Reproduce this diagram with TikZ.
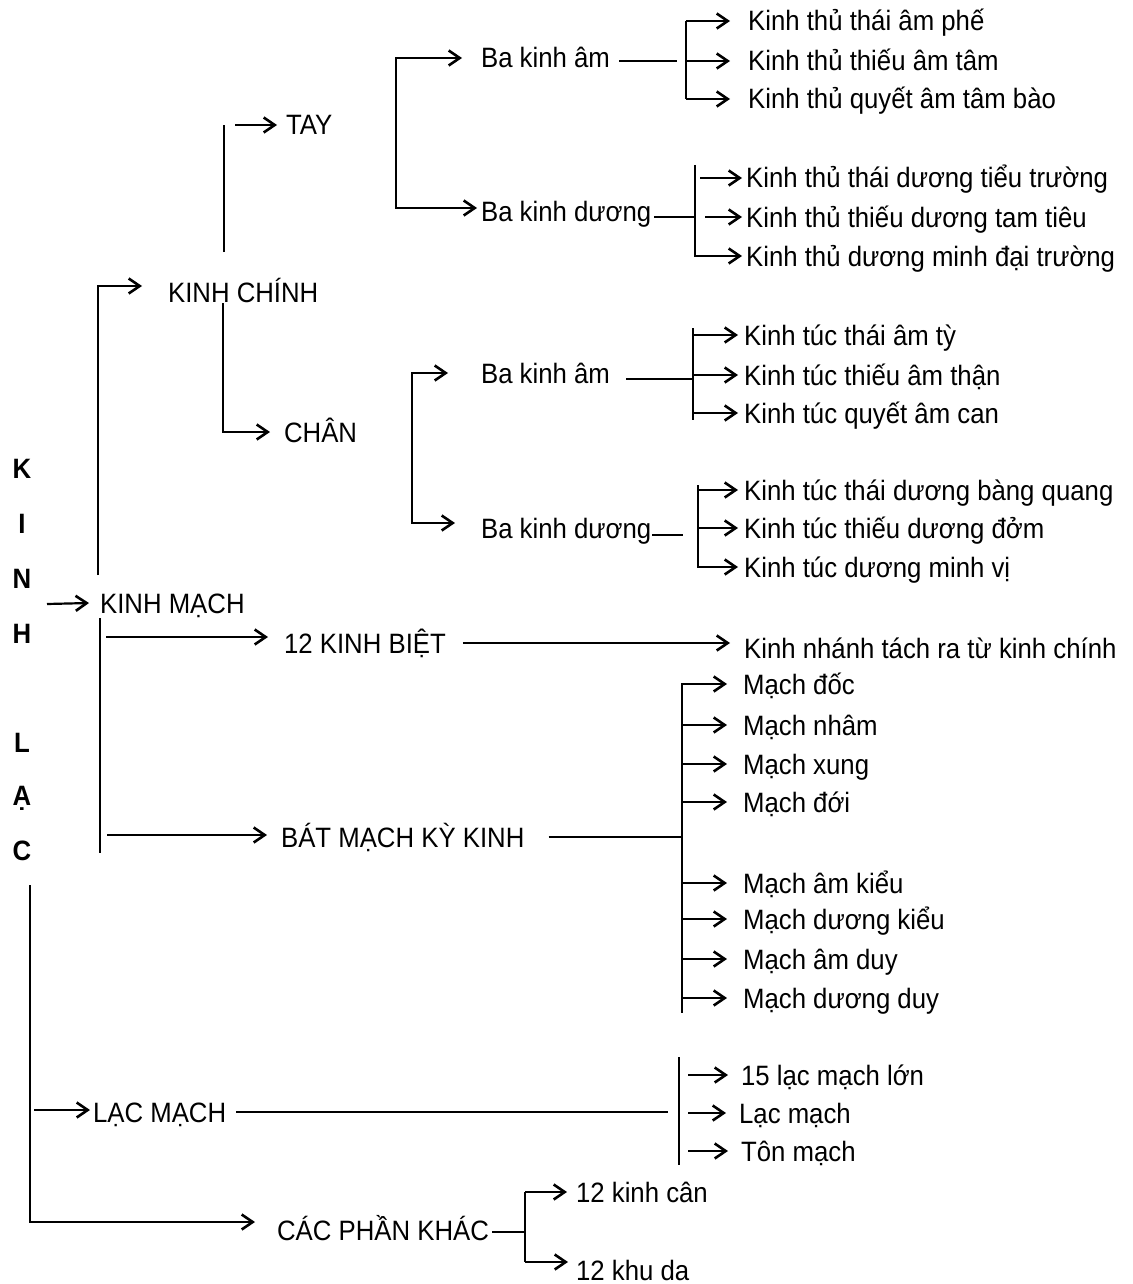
\documentclass[tikz,border=0pt]{standalone}
\usepackage{fontspec}
\setmainfont{Liberation Sans}[FakeStretch=0.92]
\usetikzlibrary{arrows.meta,calc}
\begin{document}
\begin{tikzpicture}[x=1pt,y=-1pt,line width=2.2pt,
  lbl/.style={anchor=west,inner sep=0pt,text height=20pt,text depth=0pt,font=\fontsize{28}{32}\selectfont},
  arr/.style={-{Straight Barb[length=11pt,width=15pt,line width=2.6pt]}},
  letter/.style={anchor=base,inner sep=0pt,font=\fontsize{28}{32}\selectfont\bfseries}]
\fill[white] (0,0) rectangle (1132,1284);
\useasboundingbox (0,0) rectangle (1132,1284);

% vertical title letters
\node[letter] (lk) at (22,478) {K};
\node[letter] (li) at (22,533) {I};
\node[letter] (ln) at (22,588) {N};
\node[letter] (lh) at (22,643) {H};
\node[letter] (ll) at (22,752) {L};
\node[letter] (la) at (22,805) {Ạ};
\node[letter] (lc) at (22,860) {C};

% level 1
\node[lbl] (kinhmach) at (99,603) {KINH MẠCH};
\node[lbl] (kinhchinh) at (167,292) {KINH CHÍNH};
\node[lbl] (tay) at (285,125) {TAY};
\node[lbl] (chan) at (283,432) {CHÂN};
\node[lbl] (biet) at (283,643) {12 KINH BIỆT};
\node[lbl] (bat) at (280,837) {BÁT MẠCH KỲ KINH};
\node[lbl] (lacmach) at (92,1112) {LẠC MẠCH};
\node[lbl] (cac) at (276,1230) {CÁC PHẦN KHÁC};

\coordinate (inKM) at (47,604);
\draw[arr] (inKM) -- ([xshift=-10pt]kinhmach.west);
\coordinate (vKC) at (98,575);
\draw[arr] (vKC) |- ([xshift=-25pt,yshift=6pt]kinhchinh.west);
\coordinate (vTt) at (224,125);
\coordinate (vTb) at (224,252);
\coordinate (aT) at (235,125);
\draw (vTb) -- (vTt);
\draw[arr] (aT) -- ([xshift=-8pt]tay.west);
\coordinate (vC) at (223,303);
\draw[arr] (vC) |- ([xshift=-13pt]chan.west);
\coordinate (vKMt) at (100,618);
\coordinate (vKMb) at (100,853);
\draw (vKMt) -- (vKMb);
\coordinate (aB) at (106,637);
\draw[arr] (aB) -- ([xshift=-15pt,yshift=6pt]biet.west);
\coordinate (aBat) at (107,835);
\draw[arr] (aBat) -- ([xshift=-13pt,yshift=2pt]bat.west);
\coordinate (vL) at (30,885);
\draw[arr] (vL) |- ([xshift=-21pt,yshift=8pt]cac.west);
\coordinate (aL) at (34,1110);
\draw[arr] (aL) -- ([xshift=-2pt,yshift=2pt]lacmach.west);

% TAY branch
\node[lbl] (ba1) at (480,58) {Ba kinh âm};
\node[lbl] (ba2) at (480,212) {Ba kinh dương};
\coordinate (bA) at (396,133);
\draw[arr] (bA) |- ([xshift=-18pt]ba1.west);
\draw[arr] (bA) |- ([xshift=-3pt,yshift=4pt]ba2.west);

\node[lbl] (t1) at (747,21) {Kinh thủ thái âm phế};
\node[lbl] (t2) at (747,61) {Kinh thủ thiếu âm tâm};
\node[lbl] (t3) at (747,99) {Kinh thủ quyết âm tâm bào};
\coordinate (b1) at (686,61);
\draw ($(ba1.east |- b1)+(8pt,0)$) -- ($(b1)+(-9pt,0)$);
\draw (t1.west -| b1) -- (t3.west -| b1);
\foreach \t in {t1,t2,t3} \draw[arr] (\t.west -| b1) -- ([xshift=-17pt]\t.west);

\node[lbl] (t4) at (745,178) {Kinh thủ thái dương tiểu trường};
\node[lbl] (t5) at (745,217) {Kinh thủ thiếu dương tam tiêu};
\node[lbl] (t6) at (745,256) {Kinh thủ dương minh đại trường};
\coordinate (b2t) at (695,165);
\coordinate (b2b) at (695,257);
\coordinate (b2) at (695,217);
\draw (b2t) -- (b2b);
\draw ($(ba2.east |- b2)+(2pt,0)$) -- (b2);
\draw[arr] ($(t4.west -| b2)+(5pt,0)$) -- ([xshift=-3pt]t4.west);
\draw[arr] ($(t5.west -| b2)+(10pt,0)$) -- ([xshift=-3pt]t5.west);
\draw[arr] (t6.west -| b2) -- ([xshift=-3pt]t6.west);

% CHAN branch
\node[lbl] (bc1) at (480,373) {Ba kinh âm};
\node[lbl] (bc2) at (480,528) {Ba kinh dương};
\coordinate (bC) at (412,448);
\draw[arr] (bC) |- ([xshift=-32pt]bc1.west);
\draw[arr] (bC) |- ([xshift=-25pt,yshift=5pt]bc2.west);

\node[lbl] (s1) at (743,335) {Kinh túc thái âm tỳ};
\node[lbl] (s2) at (743,375) {Kinh túc thiếu âm thận};
\node[lbl] (s3) at (743,413) {Kinh túc quyết âm can};
\coordinate (b3) at (693,379);
\coordinate (b3t) at (693,328);
\coordinate (b3b) at (693,420);
\draw (b3t) -- (b3b);
\draw ($(bc1.east |- b3)+(15pt,0)$) -- (b3);
\foreach \t in {s1,s2,s3} \draw[arr] (\t.west -| b3) -- ([xshift=-5pt]\t.west);

\node[lbl] (s4) at (743,490) {Kinh túc thái dương bàng quang};
\node[lbl] (s5) at (743,528) {Kinh túc thiếu dương đởm};
\node[lbl] (s6) at (743,567) {Kinh túc dương minh vị};
\coordinate (b4) at (698,535);
\coordinate (b4t) at (698,485);
\coordinate (b4b) at (698,568);
\draw (b4t) -- (b4b);
\draw ($(bc2.east |- b4)+(0pt,0)$) -- ($(b4)+(-15pt,0)$);
\foreach \t in {s4,s5,s6} \draw[arr] (\t.west -| b4) -- ([xshift=-5pt]\t.west);

% 12 KINH BIET
\node[lbl] (nh) at (743,648) {Kinh nhánh tách ra từ kinh chính};
\draw[arr] ($(biet.east)+(16pt,0)$) -- ([xshift=-13pt,yshift=5pt]nh.west);

% BAT MACH
\node[lbl] (m1) at (742,684) {Mạch đốc};
\node[lbl] (m2) at (742,725) {Mạch nhâm};
\node[lbl] (m3) at (742,764) {Mạch xung};
\node[lbl] (m4) at (742,802) {Mạch đới};
\node[lbl] (m5) at (742,883) {Mạch âm kiểu};
\node[lbl] (m6) at (742,919) {Mạch dương kiểu};
\node[lbl] (m7) at (742,959) {Mạch âm duy};
\node[lbl] (m8) at (742,998) {Mạch dương duy};
\coordinate (b5) at (682,837);
\coordinate (b5t) at (682,683);
\coordinate (b5b) at (682,1013);
\draw (b5t) -- (b5b);
\draw ($(bat.east)+(23pt,0)$) -- (b5);
\foreach \t in {m1,m2,m3,m4,m5,m6,m7,m8} \draw[arr] (\t.west -| b5) -- ([xshift=-15pt]\t.west);

% LAC MACH
\node[lbl] (l1) at (740,1075) {15 lạc mạch lớn};
\node[lbl] (l2) at (738,1113) {Lạc mạch};
\node[lbl] (l3) at (740,1151) {Tôn mạch};
\coordinate (b6) at (679,1112);
\coordinate (b6t) at (679,1057);
\coordinate (b6b) at (679,1165);
\draw (b6t) -- (b6b);
\draw ($(lacmach.east)+(9pt,0)$) -- ($(b6)+(-11pt,0)$);
\foreach \t in {l1,l2,l3} \draw[arr] ($(\t.west -| b6)+(9pt,0)$) -- ([xshift=-12pt]\t.west);

% CAC PHAN KHAC
\node[lbl] (k1) at (575,1192) {12 kinh cân};
\node[lbl] (k2) at (575,1270) {12 khu da};
\coordinate (b7) at (525,1232);
\coordinate (b7t) at (525,1192);
\coordinate (b7b) at (525,1262);
\draw (b7t) -- (b7b);
\draw ($(cac.east |- b7)+(2pt,0)$) -- (b7);
\draw[arr] (b7t) -- ([xshift=-8pt]k1.west);
\draw[arr] (b7b) -- ([xshift=-7pt,yshift=8pt]k2.west);
\end{tikzpicture}
\end{document}
